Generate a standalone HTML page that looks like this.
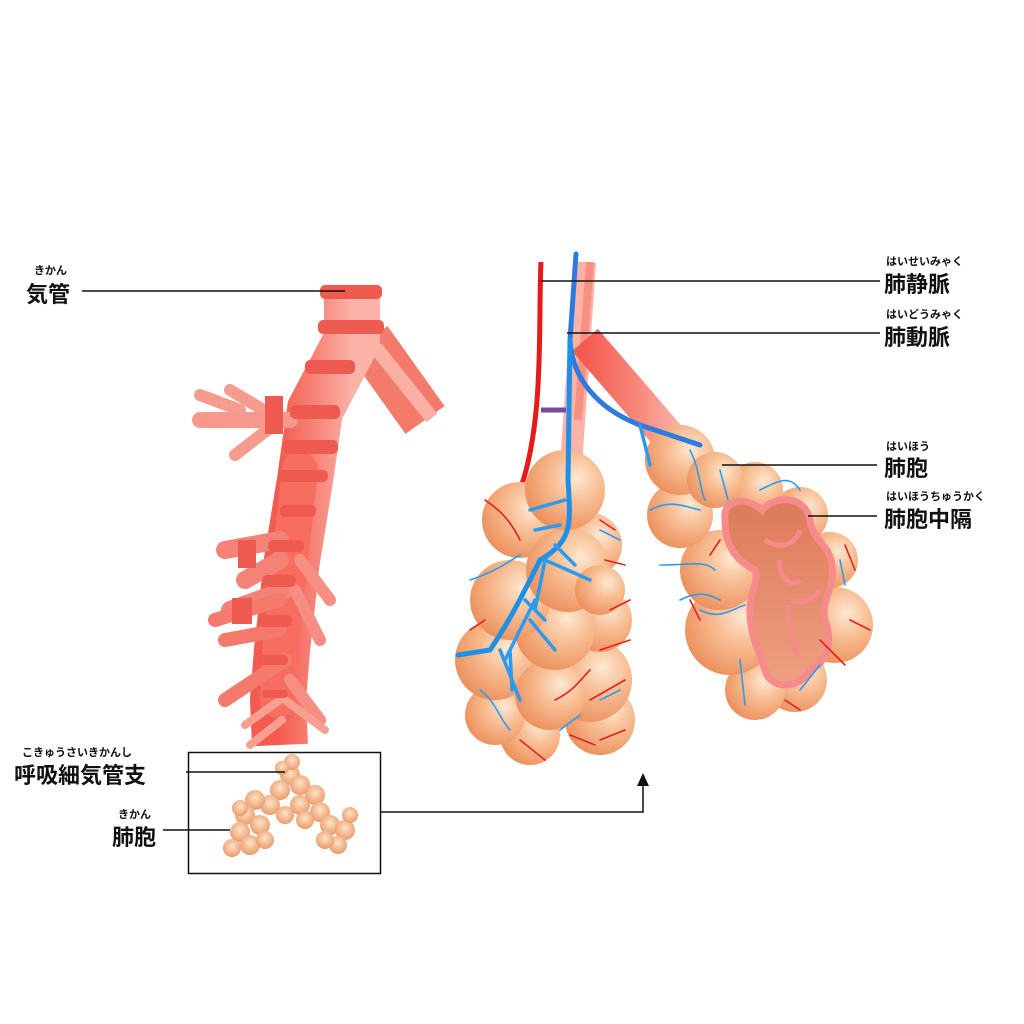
<!DOCTYPE html>
<html><head><meta charset="utf-8"><style>
html,body{margin:0;padding:0;background:#fff}
svg{display:block}
text{font-family:"Liberation Sans","Noto Sans CJK JP",sans-serif;font-weight:bold;fill:#111}
</style></head><body>
<svg width="1024" height="1024" viewBox="0 0 1024 1024" xmlns="http://www.w3.org/2000/svg">
<defs>
<radialGradient id="alv" cx="0.65" cy="0.35" r="0.7">
<stop offset="0" stop-color="#fde8d2"/><stop offset="0.45" stop-color="#f8bd92"/><stop offset="1" stop-color="#ec915e"/>
</radialGradient>
<radialGradient id="sm" cx="0.5" cy="0.4" r="0.6">
<stop offset="0" stop-color="#fde3c8"/><stop offset="1" stop-color="#eb9a68"/>
</radialGradient>
<linearGradient id="tube" x1="0" x2="1">
<stop offset="0" stop-color="#f35a50"/><stop offset="0.6" stop-color="#f88c80"/><stop offset="1" stop-color="#fbb3a8"/>
</linearGradient>
<linearGradient id="sep" x1="0" y1="0" x2="0" y2="1">
<stop offset="0" stop-color="#dd7a5a"/><stop offset="1" stop-color="#eea080"/>
</linearGradient>
</defs>

<!-- LEFT BRONCHIAL TREE -->
<g fill="none">
<path d="M368 340 L425 420" stroke="#f47a6c" stroke-width="48" stroke-linecap="butt"/>
<path d="M376 348 L432 418" stroke="#fbb0a4" stroke-width="14"/>
<path d="M352 290 L352 340 L315 410 L305 480 L292 560 L282 650 L278 700 L280 745" stroke="url(#tube)" stroke-width="56" stroke-linecap="butt"/>
<path d="M300 470 L290 560 L280 650 L278 700" stroke="#f76d60" stroke-width="36" stroke-linecap="round"/>
</g>
<g stroke-linecap="round" fill="none">
<path d="M290 420 L200 420" stroke="#f7988c" stroke-width="16"/>
<path d="M280 420 L230 390 M280 420 L235 455 M240 410 L200 395" stroke="#f59c8e" stroke-width="12"/>
<path d="M280 540 L225 550 M280 560 L245 580 M285 590 L230 610" stroke="#f58276" stroke-width="18"/>
<path d="M280 600 L215 620 M280 630 L225 640 M285 660 L225 700" stroke="#f47a6c" stroke-width="14"/>
<path d="M295 590 L320 640 M300 560 L330 600 M290 680 L320 720" stroke="#f68e82" stroke-width="12"/>
<path d="M280 700 L245 725 M282 720 L250 745 M285 700 L325 730" stroke="#f7a092" stroke-width="8"/>
</g>
<g fill="#ee5a50">
<rect x="320" y="285" width="62" height="14" rx="5"/>
<rect x="318" y="320" width="66" height="14" rx="5"/>
<rect x="305" y="360" width="50" height="14" rx="5"/>
<rect x="290" y="405" width="50" height="14" rx="5"/>
<rect x="283" y="440" width="55" height="14" rx="5"/>
<rect x="278" y="470" width="50" height="12" rx="5"/>
<rect x="280" y="505" width="36" height="12" rx="5"/>
<rect x="268" y="540" width="36" height="12" rx="5"/>
<rect x="262" y="575" width="34" height="12" rx="5"/>
<rect x="258" y="615" width="34" height="12" rx="5"/>
<rect x="258" y="655" width="30" height="10" rx="4"/>
<rect x="262" y="690" width="26" height="8" rx="4"/>
</g>
<rect x="265" y="396" width="18" height="38" fill="#ee5a50"/>
<rect x="238" y="540" width="18" height="28" fill="#ee5a50"/>
<rect x="232" y="598" width="20" height="26" fill="#ee5a50"/>

<!-- small alveoli cluster -->
<g fill="url(#sm)">
<circle cx="290" cy="775" r="10"/><circle cx="300" cy="785" r="10"/><circle cx="280" cy="790" r="10"/>
<circle cx="270" cy="805" r="10"/><circle cx="255" cy="800" r="10"/><circle cx="245" cy="815" r="10"/>
<circle cx="260" cy="825" r="10"/><circle cx="240" cy="832" r="10"/><circle cx="250" cy="845" r="10"/>
<circle cx="232" cy="848" r="9"/><circle cx="265" cy="840" r="9"/><circle cx="240" cy="808" r="8"/>
<circle cx="300" cy="805" r="10"/><circle cx="315" cy="795" r="10"/><circle cx="320" cy="812" r="10"/>
<circle cx="305" cy="820" r="9"/><circle cx="330" cy="825" r="10"/><circle cx="345" cy="830" r="10"/>
<circle cx="338" cy="845" r="9"/><circle cx="325" cy="840" r="9"/><circle cx="285" cy="815" r="9"/>
<circle cx="350" cy="815" r="8"/><circle cx="292" cy="762" r="8"/><circle cx="282" cy="768" r="7"/>
</g>

<!-- RIGHT: vessels/tubes -->
<path d="M585 262 L570 480" stroke="#fbb3a8" stroke-width="22" fill="none"/>
<path d="M590 262 L578 420" stroke="#f79080" stroke-width="8" fill="none"/>
<path d="M585 340 L680 450" stroke="url(#tube)" stroke-width="34" fill="none"/>
<path d="M541 262 C538 320 545 420 520 490" stroke="#e71a1a" stroke-width="5" fill="none"/>
<path d="M541 410 L566 410" stroke="#7a4a9a" stroke-width="5"/>

<!-- left cluster -->
<g fill="url(#alv)">
<circle cx="600" cy="720" r="35"/><circle cx="530" cy="735" r="30"/><circle cx="495" cy="715" r="30"/>
<circle cx="590" cy="680" r="42"/><circle cx="495" cy="660" r="40"/><circle cx="550" cy="695" r="35"/>
<circle cx="600" cy="620" r="32"/><circle cx="555" cy="630" r="40"/><circle cx="510" cy="600" r="40"/>
<circle cx="590" cy="545" r="32"/><circle cx="520" cy="520" r="38"/><circle cx="568" cy="570" r="42"/>
<circle cx="565" cy="490" r="40"/><circle cx="600" cy="590" r="25"/>
</g>
<!-- right cluster -->
<g fill="url(#alv)">
<circle cx="795" cy="680" r="32"/><circle cx="755" cy="690" r="30"/><circle cx="730" cy="630" r="45"/>
<circle cx="835" cy="625" r="38"/><circle cx="830" cy="560" r="28"/><circle cx="720" cy="570" r="40"/>
<circle cx="680" cy="515" r="33"/><circle cx="800" cy="515" r="28"/><circle cx="755" cy="490" r="28"/>
<circle cx="680" cy="460" r="35"/><circle cx="715" cy="480" r="28"/>
</g>
<!-- septum -->
<path d="M725 520 C722 500 745 495 762 510 C775 495 805 495 810 520 C812 540 830 545 832 565 C835 590 820 600 825 620 C832 640 830 660 810 670 C800 690 770 690 765 670 C760 650 750 640 750 610 C750 590 760 580 755 570 C735 560 725 545 725 520 Z" fill="url(#sep)" stroke="#f58b8b" stroke-width="7"/>
<g stroke="#f58b8b" stroke-width="5" fill="none">
<path d="M765 540 C780 550 795 545 800 530"/><path d="M780 560 C778 575 790 590 800 580"/><path d="M790 600 C800 605 812 600 820 590"/><path d="M788 605 C790 630 792 645 798 655"/>
</g>

<!-- vessels on clusters -->
<g fill="none" stroke-linecap="round">
<path d="M576 254 L570 340 C572 380 600 410 640 425 L700 445" stroke="#2e7be0" stroke-width="5"/>
<path d="M570 340 L568 480 C570 520 575 540 540 560 C520 600 510 620 490 650 L458 655" stroke="#1e90e8" stroke-width="5"/>
<path d="M565 500 L530 510 M560 525 L535 530 M545 560 L535 610 M535 600 L505 660 M545 560 L590 580 M555 545 L575 565 M530 620 L555 650 M510 650 L512 690 M500 650 L520 700 M525 600 L545 620 M640 425 L650 465" stroke="#2a9bef" stroke-width="3.5"/>
<g stroke="#2a9bef" stroke-width="1.6">
<path d="M470 580 C500 570 510 560 520 555 M480 690 C495 700 500 720 510 730 M600 700 L620 690 M560 730 L580 715 M600 530 L620 540 M690 450 C700 470 700 490 705 500 M650 510 C670 500 680 505 700 510 M660 565 C690 565 705 560 715 570 M700 610 C720 620 730 610 745 605 M740 660 L745 705 M800 690 L820 665 M760 490 C780 480 790 475 800 490 M840 560 L845 585 M680 600 C700 590 710 595 720 600 M720 470 L728 500"/>
</g>
<g stroke="#e52020" stroke-width="1.6">
<path d="M485 500 C500 510 510 520 520 540 M600 520 L615 530 M605 560 L625 565 M610 610 L630 600 M600 650 L630 640 M590 700 L625 680 M570 735 L595 745 M520 740 L545 760 M600 740 L625 730 M470 630 L485 620 M845 545 L855 570 M850 620 L870 630 M820 640 C830 650 840 660 845 665 M690 600 L700 620 M720 540 L710 555 M785 700 L800 710 M555 700 C575 690 580 680 590 670"/>
</g>
</g>

<!-- box and arrow -->
<rect x="188.5" y="752.5" width="192" height="121" fill="none" stroke="#111" stroke-width="1.5"/>
<path d="M380 812 L643 812 L643 785" fill="none" stroke="#111" stroke-width="1.5"/>
<path d="M637 786 L643 773 L649 786 Z" fill="#111"/>

<!-- leader lines -->
<g stroke="#111" stroke-width="1.5">
<line x1="82" y1="291" x2="345" y2="291"/>
<line x1="186" y1="772" x2="285" y2="772"/>
<line x1="163" y1="830" x2="230" y2="830"/>
<line x1="541" y1="281" x2="880" y2="281"/>
<line x1="567" y1="333" x2="880" y2="333"/>
<line x1="722" y1="465" x2="877" y2="465"/>
<line x1="808" y1="516" x2="877" y2="516"/>
</g>

<!-- labels -->
<text x="34" y="274" font-size="11">きかん</text>
<text x="26" y="302" font-size="22">気管</text>
<text x="22" y="756" font-size="11">こきゅうさいきかんし</text>
<text x="14" y="783" font-size="22">呼吸細気管支</text>
<text x="118" y="818" font-size="11">きかん</text>
<text x="112" y="845" font-size="22">肺胞</text>
<text x="886" y="265" font-size="11">はいせいみゃく</text>
<text x="884" y="292" font-size="22">肺静脈</text>
<text x="886" y="318" font-size="11">はいどうみゃく</text>
<text x="884" y="345" font-size="22">肺動脈</text>
<text x="886" y="450" font-size="11">はいほう</text>
<text x="884" y="476" font-size="22">肺胞</text>
<text x="886" y="500" font-size="11">はいほうちゅうかく</text>
<text x="884" y="527" font-size="22">肺胞中隔</text>
</svg>
</body></html>
